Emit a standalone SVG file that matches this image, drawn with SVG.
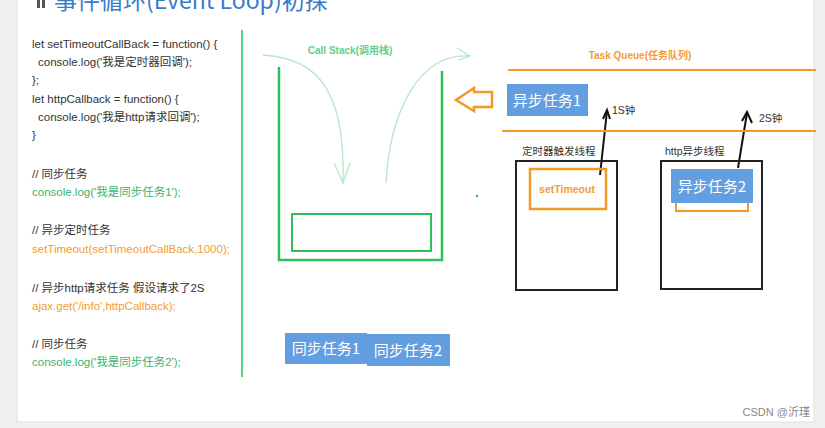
<svg xmlns="http://www.w3.org/2000/svg" width="825" height="428" viewBox="0 0 825 428">
<defs>
<style>
.code{font-family:"Liberation Sans","Noto Sans CJK SC",sans-serif;font-size:11.5px;fill:#333}
.cg{fill:#3cb371}
.co{fill:#f39c34}
.blue{fill:#639ee0}
.bt{font-family:"Noto Sans CJK SC","Liberation Serif",serif;font-size:15px;fill:#fff}
.lbl{font-family:"Liberation Sans","Noto Sans CJK SC",sans-serif;font-size:10.5px;fill:#333}
.thin{fill:none;stroke:#b9e6c8;stroke-width:1.3}
</style>
</defs>
<rect x="0" y="0" width="825" height="428" fill="#f0f0f0"/>
<rect x="17" y="-2" width="797" height="424" fill="#fff" stroke="#e0e0e0" stroke-width="1"/>
<g id="title">
<rect x="37" y="-4" width="3" height="12" fill="#555"/>
<rect x="42" y="-4" width="3" height="12" fill="#555"/>
<text x="54" y="9" font-family="Noto Sans CJK SC,sans-serif" font-size="23" fill="#3a7bc8">事件循环(Event Loop)初探</text>
</g>
<g id="code">
<text class="code" x="32" y="48">let setTimeoutCallBack = function() {</text>
<text class="code" x="38" y="66">console.log('我是定时器回调');</text>
<text class="code" x="32" y="84">};</text>
<text class="code" x="32" y="103">let httpCallback = function() {</text>
<text class="code" x="38" y="121">console.log('我是http请求回调');</text>
<text class="code" x="32" y="139">}</text>
<text class="code" x="32" y="178">// 同步任务</text>
<text class="code cg" x="32" y="196">console.log('我是同步任务1');</text>
<text class="code" x="32" y="234">// 异步定时任务</text>
<text class="code co" x="32" y="253">setTimeout(setTimeoutCallBack,1000);</text>
<text class="code" x="32" y="292">// 异步http请求任务   假设请求了2S</text>
<text class="code co" x="32" y="310">ajax.get('/info',httpCallback);</text>
<text class="code" x="32" y="348">// 同步任务</text>
<text class="code cg" x="32" y="366">console.log('我是同步任务2');</text>
<line x1="242" y1="30" x2="242" y2="377" stroke="#4fd283" stroke-width="2"/>
</g>
<g id="callstack">
<text x="350" y="54" text-anchor="middle" font-family="Liberation Sans,Noto Sans CJK SC,sans-serif" font-size="10" font-weight="bold" fill="#5fd08a">Call Stack(调用栈)</text>
<path d="M279 67 V260 H442 V71" fill="none" stroke="#2fbf5a" stroke-width="2.5"/>
<rect x="292" y="214" width="139" height="37" fill="none" stroke="#2fbf5a" stroke-width="2"/>
<circle cx="477" cy="196" r="1.2" fill="#2fbf5a"/>
</g>
<g id="connectors">
<path class="thin" d="M263 55 C310 58 346 80 343 183"/>
<path class="thin" d="M334 163 L343 183 L350 163"/>
<path class="thin" d="M386 183 C390 110 420 52 470 56"/>
<path class="thin" d="M457 48 L470 56 L458 60"/>
<path d="M600 175 L607 111" fill="none" stroke="#111" stroke-width="2"/>
<path d="M603 119 L607 110 L610 119" fill="none" stroke="#111" stroke-width="2"/>
<path d="M738 168 L747 113" fill="none" stroke="#111" stroke-width="2"/>
<path d="M742 121 L747 112 L752 123" fill="none" stroke="#111" stroke-width="2"/>
<path d="M492 92 H474 V88 L456 100 L474 111 V107 H492 Z" fill="none" stroke="#f39a24" stroke-width="2.5" stroke-linejoin="miter"/>
</g>
<g id="taskqueue">
<text x="640" y="59" text-anchor="middle" font-family="Liberation Sans,Noto Sans CJK SC,sans-serif" font-size="10" font-weight="bold" fill="#f39c34">Task Queue(任务队列)</text>
<line x1="508" y1="70" x2="816" y2="70" stroke="#f39a24" stroke-width="2"/>
<line x1="502" y1="131" x2="816" y2="131" stroke="#f39a24" stroke-width="2"/>
</g>
<g id="async1">
<rect class="blue" x="507" y="84" width="81" height="32"/>
<text class="bt" x="547" y="106" text-anchor="middle">异步任务1</text>
</g>
<text class="lbl" x="612" y="114">1S钟</text>
<text class="lbl" x="759" y="122">2S钟</text>
<g id="timerThread">
<text class="lbl" x="522" y="155">定时器触发线程</text>
<rect x="516" y="161" width="101" height="129" fill="none" stroke="#222" stroke-width="2"/>
<rect x="530" y="169" width="76" height="40" fill="none" stroke="#f39a24" stroke-width="2.5"/>
<text x="567" y="193" text-anchor="middle" font-family="Liberation Sans,sans-serif" font-size="10.5" font-weight="bold" fill="#f39c34">setTimeout</text>
</g>
<g id="httpThread">
<text class="lbl" x="665" y="155">http异步线程</text>
<rect x="661" y="161" width="101" height="128" fill="none" stroke="#222" stroke-width="2"/>
<rect x="676" y="180" width="72" height="31" fill="none" stroke="#f39a24" stroke-width="2"/>
<rect class="blue" x="671" y="169" width="82" height="34"/>
<text class="bt" x="712" y="192" text-anchor="middle">异步任务2</text>
</g>
<g id="sync1">
<rect class="blue" x="285" y="333" width="82" height="31"/>
<text class="bt" x="326" y="354" text-anchor="middle">同步任务1</text>
</g>
<g id="sync2">
<rect class="blue" x="367" y="334" width="83" height="32"/>
<text class="bt" x="408" y="356" text-anchor="middle">同步任务2</text>
</g>
<text x="810" y="416" text-anchor="end" font-family="Liberation Sans,Noto Sans CJK SC,sans-serif" font-size="11" fill="#888">CSDN @沂瑾</text>
</svg>
